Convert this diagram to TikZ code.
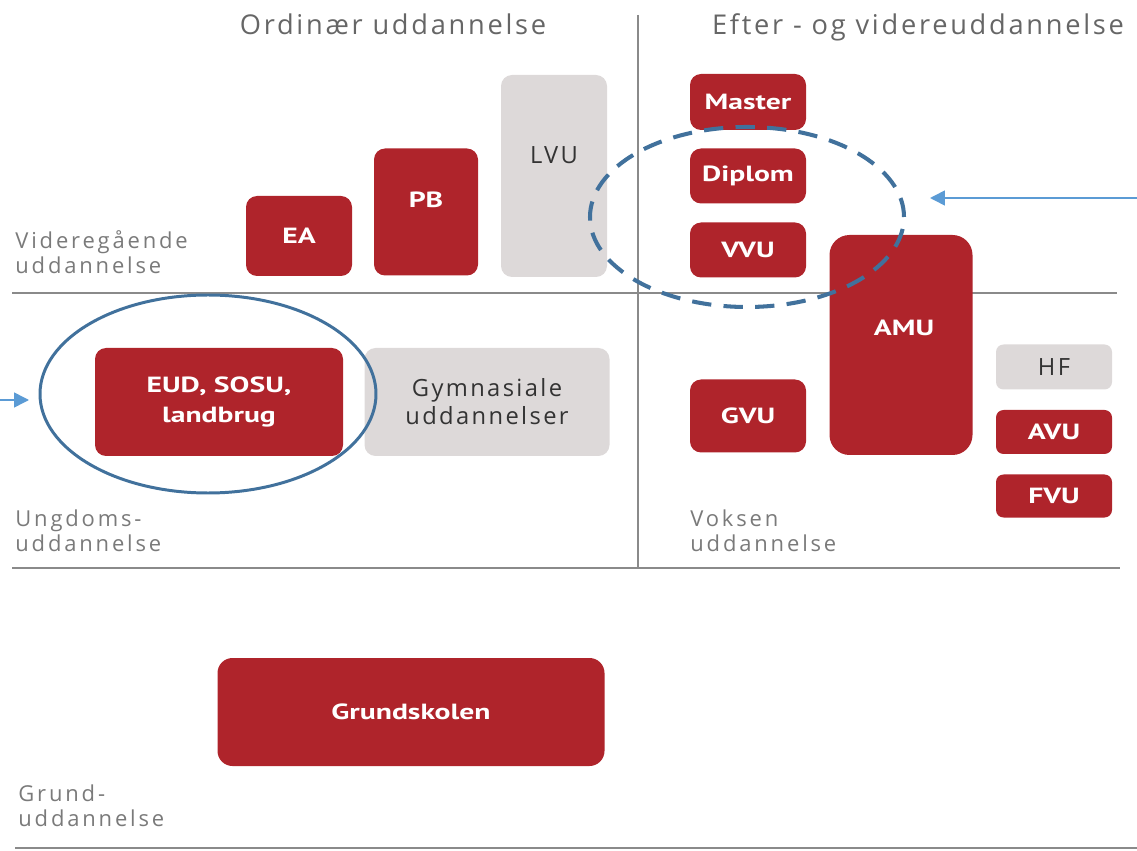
\documentclass[tikz,border=0pt]{standalone}
\usepackage{fontspec}
\setmainfont{Open Sans}
\newfontfamily\boxfont[FakeStretch=1.35]{PT Sans}
\newfontfamily\spacedfont[LetterSpace=10]{Open Sans}
\newfontfamily\labelfont[LetterSpace=13]{Open Sans}
\usetikzlibrary{shapes.geometric,arrows.meta}
\definecolor{boxred}{HTML}{AF242B}
\definecolor{boxgray}{HTML}{DDD9D9}
\definecolor{labgray}{HTML}{7A7A7A}
\definecolor{rulegray}{HTML}{8A8A8A}
\definecolor{ringblue}{HTML}{41719C}
\definecolor{arrowblue}{HTML}{5B9BD5}
\tikzset{
  sz/.style 2 args={minimum width=#1*0.02cm, minimum height=#2*0.02cm},
  redfont/.style={font=\boxfont\bfseries\fontsize{12.5}{17}\selectfont},
  grayfont/.style={font=\spacedfont\fontsize{13.5}{16}\selectfont},
  redbox/.style={fill=boxred, rounded corners=0.22cm, inner sep=0pt, text=white,
    redfont, align=center},
  graybox/.style={fill=boxgray, rounded corners=0.22cm, inner sep=0pt, text=black!80,
    grayfont, align=center},
  boxtext/.style={inner sep=0pt},
  sectlabel/.style={text=labgray, font=\labelfont\fontsize{12.5}{14.5}\selectfont, align=left, anchor=west, inner sep=0pt},
  heading/.style={text=black!60, font=\spacedfont\fontsize{15.5}{17}\selectfont, inner sep=0pt},
  rule/.style={draw=rulegray, line width=1.6pt},
  ring/.style={draw=ringblue, line width=1.7pt, ellipse, inner sep=0pt},
  dashring/.style={draw=ringblue, line width=2.3pt, dash pattern=on 11pt off 7pt, ellipse, inner sep=0pt},
  pointer/.style={draw=arrowblue, line width=0.9pt, -{Triangle[length=8.5pt,width=8.5pt]}}
}
\begin{document}
\begin{tikzpicture}[x=0.02cm,y=-0.02cm]
\useasboundingbox (0,0) rectangle (1137,851);
% rules
\coordinate (r1a) at (12,293); \coordinate (r1b) at (1117,293);
\coordinate (r2a) at (12,568); \coordinate (r2b) at (1120,568);
\coordinate (r3a) at (15,848); \coordinate (r3b) at (1137,848);
\coordinate (vt) at (638,15); \coordinate (vb) at (638,568);
\draw[rule] (r1a) -- (r1b);
\draw[rule] (r2a) -- (r2b);
\draw[rule] (r3a) -- (r3b);
\draw[rule] (vt) -- (vb);
% headings
\node[heading] (h1) at (393,24) {Ordinær uddannelse};
\node[heading] (h2) at (918,27) {Efter - og videreuddannelse};
% section labels
\node[sectlabel] (s1) at (15,252) {Videregående\\uddannelse};
\node[sectlabel] (s2) at (15,531) {Ungdoms-\\uddannelse};
\node[sectlabel] (s3) at (690,531) {Voksen\\uddannelse};
\node[sectlabel] (s4) at (18,806) {Grund-\\uddannelse};
% boxes upper left
\node[redbox, sz={106}{80}] (ea) at (299,236) {EA};
\node[redbox, sz={104}{127}] (pb) at (426,212) {};
\node[boxtext, text=white, redfont] (pbt) at (426,200) {PB};
\node[graybox, sz={106}{202}] (lvu) at (554,176) {};
\node[boxtext, text=black!80, grayfont] (lvut) at (554,155) {LVU};
% boxes upper right
\node[redbox, sz={116}{56}] (master) at (748,102) {Master};
\node[redbox, sz={116}{55}] (diplom) at (748,176) {Diplom};
\node[redbox, sz={116}{55}] (vvu) at (748,250) {VVU};
\node[redbox, sz={143}{220}, rounded corners=0.4cm] (amu) at (901,345) {};
\node[boxtext, text=white, redfont] (amut) at (904,328) {AMU};
% lower right
\node[redbox, sz={116}{73}] (gvu) at (748,416) {GVU};
\node[graybox, sz={116}{45}, rounded corners=0.15cm] (hf) at (1054,367) {HF};
\node[redbox, sz={116}{44}, rounded corners=0.15cm] (avu) at (1054,432) {AVU};
\node[redbox, sz={116}{43}, rounded corners=0.15cm] (fvu) at (1054,496) {FVU};
% lower left
\node[redbox, sz={248}{108}] (eud) at (219,402) {EUD, SOSU,\\landbrug};
\node[graybox, sz={245}{108}] (gym) at (487,402) {Gymnasiale\\uddannelser};
% bottom
\node[redbox, sz={387}{108}, rounded corners=0.3cm] (grund) at (411,712) {Grundskolen};
% annotations
\node[ring, minimum width=336*0.02cm, minimum height=198*0.02cm] (ring1) at (208,394) {};
\node[dashring, minimum width=314*0.02cm, minimum height=180*0.02cm] (ring2) at (747,217) {};
\coordinate (p1s) at (0,400);
\coordinate (p1e) at (29,400);
\draw[pointer] (p1s) -- (p1e);
\coordinate (p2s) at (1137,198);
\coordinate (p2e) at (930,198);
\draw[pointer] (p2s) -- (p2e);
\end{tikzpicture}
\end{document}
